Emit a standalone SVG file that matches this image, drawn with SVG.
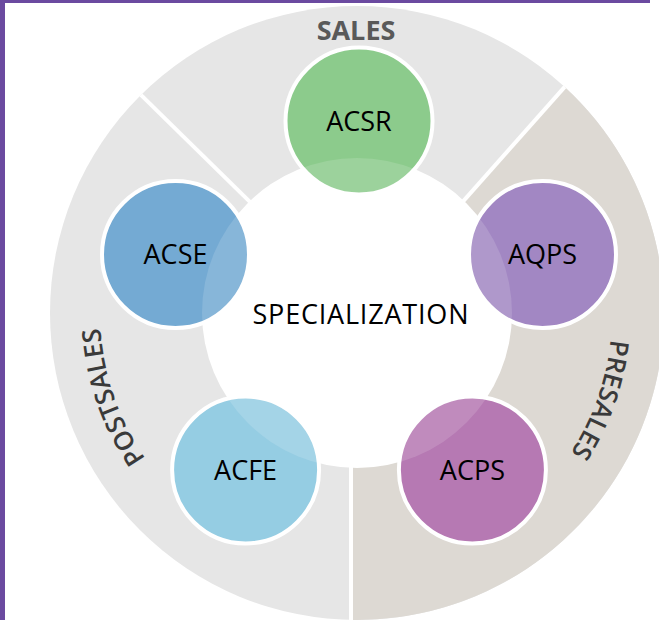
<svg xmlns="http://www.w3.org/2000/svg" width="659" height="620" viewBox="0 0 659 620">
  <style>
    .node { stroke: #ffffff; stroke-width: 4; }
    .nlabel { font-family: "Open Sans", "Liberation Sans", sans-serif; font-size: 27px; fill: #000000; text-anchor: middle; }
    .ring { font-family: "Open Sans", "Liberation Sans", sans-serif; font-size: 26px; font-weight: 600; fill: #3a3a3a; }
    .divider { stroke: #ffffff; stroke-width: 4; fill: none; }
  </style>
  <defs>
    <path id="arcPre" d="M 576.6,183.1 A 256 256 0 0 1 445.6,552.8"/>
    <path id="arcPost" d="M 264.3,552.0 A 256 256 0 0 1 136.6,181.2"/>
  </defs>
  <rect x="0" y="0" width="659" height="620" fill="#ffffff"/>
  <!-- frame -->
  <rect x="0" y="0" width="5" height="620" fill="#6b4aa0"/>
  <rect x="0" y="0" width="650" height="3" fill="#6b4aa0"/>

  <!-- ring segments -->
  <g id="ring">
    <circle cx="357" cy="313" r="307" fill="#e6e6e6"/>
    <path d="M 463.1,201.4 L 564.7,86.9 A 307 307 0 0 1 351,619.9 L 351,466.9 A 154 154 0 0 0 463.1,201.4 Z" fill="#ddd9d3"/>
  </g>
  <g id="connectors">
    <line class="divider" x1="140.9" y1="94.9" x2="250.2" y2="202.1"/>
    <line class="divider" x1="564.7" y1="86.9" x2="463.1" y2="201.4"/>
    <line class="divider" x1="351" y1="466.9" x2="351" y2="620"/>
  </g>
  <g id="center">
    <circle cx="357" cy="313" r="155" fill="#ffffff"/>
  </g>

  <g id="ACSR"><circle class="node" cx="359" cy="121" r="73.5" fill="#8ccb8c"/></g>
  <g id="ACSE"><circle class="node" cx="175.5" cy="254.5" r="73.5" fill="#74aad3"/></g>
  <g id="AQPS"><circle class="node" cx="542.5" cy="254.5" r="73.5" fill="#a287c3"/></g>
  <g id="ACFE"><circle class="node" cx="245.6" cy="470" r="73.5" fill="#95cde3"/></g>
  <g id="ACPS"><circle class="node" cx="472.4" cy="470" r="73.5" fill="#b679b3"/></g>

  <!-- translucent centre overlay -->
  <circle cx="357" cy="313" r="155" fill="#ffffff" fill-opacity="0.14"/>

  <g id="labels">
    <text class="nlabel" x="359" y="130.5">ACSR</text>
    <text class="nlabel" x="175.5" y="264">ACSE</text>
    <text class="nlabel" x="542.5" y="264">AQPS</text>
    <text class="nlabel" x="245.6" y="479.5">ACFE</text>
    <text class="nlabel" x="472.4" y="479.5">ACPS</text>
    <text class="nlabel" x="360.5" y="323.5" textLength="216" lengthAdjust="spacing">SPECIALIZATION</text>
    <text x="356" y="40" font-family="Open Sans, Liberation Sans, sans-serif" font-size="27" font-weight="bold" fill="#595959" text-anchor="middle">SALES</text>
    <text class="ring"><textPath href="#arcPre" startOffset="50%" text-anchor="middle">PRESALES</textPath></text>
    <text class="ring"><textPath href="#arcPost" startOffset="50%" text-anchor="middle">POSTSALES</textPath></text>
  </g>
</svg>
